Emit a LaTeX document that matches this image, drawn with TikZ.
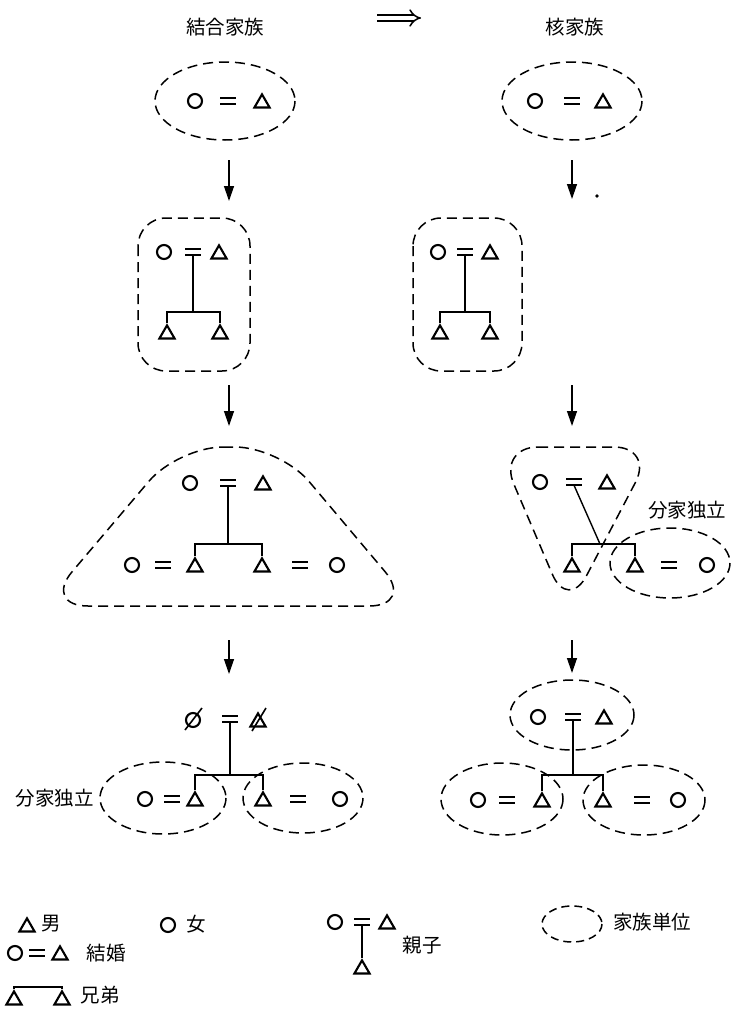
\documentclass[tikz,border=0pt]{standalone}
\usepackage{fontspec}
\newfontfamily\jp{Noto Sans CJK JP}
\usetikzlibrary{shapes.geometric,arrows.meta}

\tikzset{
  fem/.style={circle, draw, line width=2.1pt, minimum size=14pt, inner sep=0pt},
  male/.style={regular polygon, regular polygon sides=3, draw, line width=2.1pt,
    minimum size=17.5pt, inner sep=0pt, yshift=-2.1pt},
  eqbox/.style={minimum width=15pt, minimum height=6pt, inner sep=0pt},
  eqline/.style={line width=2pt},
  kin/.style={line width=1.4pt},
  unit/.style={line width=1.5pt, dash pattern=on 10pt off 6pt},
  flow/.style={line width=1.3pt, -{Triangle[length=15pt,width=10pt]}},
  lbl/.style={font=\jp\fontsize{19.5pt}{19.5pt}\selectfont, inner sep=0pt},
  strike/.style={line width=1.6pt},
}

% marriage sign: two short bars held in an empty box
\newcommand\marr[2]{%
  \node[eqbox] (#1) at (#2) {};
  \draw[eqline] (#1.north west) -- (#1.north east) (#1.south west) -- (#1.south east);}

\begin{document}
\begin{tikzpicture}[x=1pt,y=-1pt]
\useasboundingbox (0,0) rectangle (735,1017);

% ---------- headings ----------
\node[lbl] (hjoint) at (225,27) {結合家族};
\coordinate (impS) at (377,18);
\coordinate (impE) at (421,18);
\draw[line width=1.5pt, double distance=4.5pt, -{Implies}] (impS) -- (impE);
\node[lbl] (hnuc) at (575,27) {核家族};

% ---------- stage 1 ----------
\node[fem] (a1w) at (195,101) {};
\marr{a1e}{228,101}
\node[male] (a1h) at (262,101) {};
\draw[unit] (225,101) ellipse [x radius=70, y radius=39];

\node[fem] (b1w) at (535,101) {};
\marr{b1e}{572,101}
\node[male] (b1h) at (603,101) {};
\draw[unit] (572,101) ellipse [x radius=70, y radius=39];

\coordinate (a12s) at (229,160); \coordinate (a12e) at (229,201);
\draw[flow] (a12s) -- (a12e);
\coordinate (b12s) at (572,160); \coordinate (b12e) at (572,199);
\draw[flow] (b12s) -- (b12e);
\fill (597,196) circle [radius=1.8];

% ---------- stage 2 ----------
\node[fem] (a2w) at (164,252) {};
\marr{a2e}{193,252}
\node[male] (a2h) at (219,252) {};
\node[male] (a2c1) at (167,332) {};
\node[male] (a2c2) at (220,332) {};
\coordinate (a2bar) at (193,312);
\draw[kin] (a2e.south) -- (a2bar);
\draw[kin] (a2c1.corner 1) -- (a2c1.corner 1 |- a2bar) -- (a2c2.corner 1 |- a2bar) -- (a2c2.corner 1);
\draw[unit, rounded corners=28pt] (138,218) rectangle (250,371);

\node[fem] (b2w) at (438,252) {};
\marr{b2e}{465,252}
\node[male] (b2h) at (490,252) {};
\node[male] (b2c1) at (440,332) {};
\node[male] (b2c2) at (490,332) {};
\coordinate (b2bar) at (465,312);
\draw[kin] (b2e.south) -- (b2bar);
\draw[kin] (b2c1.corner 1) -- (b2c1.corner 1 |- b2bar) -- (b2c2.corner 1 |- b2bar) -- (b2c2.corner 1);
\draw[unit, rounded corners=28pt] (413,218) rectangle (522,371);

\coordinate (a23s) at (229,385); \coordinate (a23e) at (229,426);
\draw[flow] (a23s) -- (a23e);
\coordinate (b23s) at (572,385); \coordinate (b23e) at (572,426);
\draw[flow] (b23s) -- (b23e);

% ---------- stage 3 ----------
\node[fem] (a3w) at (190,483) {};
\marr{a3e}{228,483}
\node[male] (a3h) at (263,483) {};
\node[male] (a3c1) at (195,565) {};
\node[male] (a3c2) at (262,565) {};
\coordinate (a3bar) at (228,544);
\draw[kin] (a3e.south) -- (a3bar);
\draw[kin] (a3c1.corner 1) -- (a3c1.corner 1 |- a3bar) -- (a3c2.corner 1 |- a3bar) -- (a3c2.corner 1);
\node[fem] (a3s1) at (132,565) {};
\marr{a3m1}{163,565}
\marr{a3m2}{300,565}
\node[fem] (a3s2) at (337,565) {};
\draw[unit, rounded corners=45pt] (178,447) -- (280,447) -- (414,606) -- (43,606) -- cycle;

\node[fem] (b3w) at (540,482) {};
\marr{b3e}{574,482}
\node[male] (b3h) at (607,482) {};
\node[male] (b3c1) at (572,565) {};
\node[male] (b3c2) at (635,565) {};
\coordinate (b3bar) at (600,544);
\draw[kin] (b3e.south) -- (b3bar);
\draw[kin] (b3c1.corner 1) -- (b3c1.corner 1 |- b3bar) -- (b3c2.corner 1 |- b3bar) -- (b3c2.corner 1);
\marr{b3m}{669,565}
\node[fem] (b3s) at (707,565) {};
\draw[unit, rounded corners=40pt] (498,447) -- (654,447) -- (568,611) -- cycle;
\draw[unit] (670,563) ellipse [x radius=60, y radius=35];
\node[lbl] (b3lbl) at (687,510) {分家独立};

\coordinate (a34s) at (229,640); \coordinate (a34e) at (229,674);
\draw[flow] (a34s) -- (a34e);
\coordinate (b34s) at (572,640); \coordinate (b34e) at (572,673);
\draw[flow] (b34s) -- (b34e);

% ---------- stage 4 ----------
\node[fem] (a4w) at (193,720) {};
\draw[strike] (185,730) -- (202,708);
\marr{a4e}{230,719}
\node[male] (a4h) at (258,720) {};
\draw[strike] (252,731) -- (266,708);
\node[male] (a4c1) at (195,799) {};
\node[male] (a4c2) at (263,799) {};
\coordinate (a4bar) at (230,775);
\draw[kin] (a4e.south) -- (a4bar);
\draw[kin] (a4c1.corner 1) -- (a4c1.corner 1 |- a4bar) -- (a4c2.corner 1 |- a4bar) -- (a4c2.corner 1);
\node[fem] (a4s1) at (145,799) {};
\marr{a4m1}{172,799}
\marr{a4m2}{298,799}
\node[fem] (a4s2) at (340,799) {};
\draw[unit] (163,798) ellipse [x radius=63, y radius=36];
\draw[unit] (303,798) ellipse [x radius=60, y radius=35];
\node[lbl] (a4lbl) at (55,798) {分家独立};

\node[fem] (b4w) at (538,717) {};
\marr{b4e}{573,717}
\node[male] (b4h) at (604,717) {};
\node[male] (b4c1) at (542,800) {};
\node[male] (b4c2) at (603,800) {};
\coordinate (b4bar) at (573,775);
\draw[kin] (b4e.south) -- (b4bar);
\draw[kin] (b4c1.corner 1) -- (b4c1.corner 1 |- b4bar) -- (b4c2.corner 1 |- b4bar) -- (b4c2.corner 1);
\node[fem] (b4s1) at (478,800) {};
\marr{b4m1}{507,800}
\marr{b4m2}{642,800}
\node[fem] (b4s2) at (678,800) {};
\draw[unit] (572,715) ellipse [x radius=62, y radius=35];
\draw[unit] (502,799) ellipse [x radius=61, y radius=36];
\draw[unit] (644,800) ellipse [x radius=61, y radius=35];

% ---------- legend ----------
\node[male] (lgm) at (27,925) {};
\node[lbl] (lgmt) at (51,924) {男};
\node[fem] (lgf) at (168,925) {};
\node[lbl] (lgft) at (196,924) {女};

\node[fem] (lgpw) at (335,922) {};
\marr{lgpe}{362,922}
\node[male] (lgph) at (387,922) {};
\node[male] (lgpc) at (362,967) {};
\draw[kin] (lgpe.south) -- (lgpc.corner 1);
\node[lbl] (lgpt) at (422,945) {親子};

\draw[unit, dash pattern=on 8pt off 5pt] (572,924) ellipse [x radius=30, y radius=18];
\node[lbl] (lgut) at (652,922) {家族単位};

\node[fem] (lgmw) at (15,953) {};
\marr{lgme}{37,953}
\node[male] (lgmh) at (60,953) {};
\node[lbl] (lgmt2) at (106,953) {結婚};

\node[male] (lgb1) at (14,998) {};
\node[male] (lgb2) at (62,998) {};
\coordinate (lgbar) at (38,987);
\draw[kin] (lgb1.corner 1) -- (lgb1.corner 1 |- lgbar) -- (lgb2.corner 1 |- lgbar) -- (lgb2.corner 1);
\node[lbl] (lgbt) at (100,995) {兄弟};
\end{tikzpicture}
\end{document}
